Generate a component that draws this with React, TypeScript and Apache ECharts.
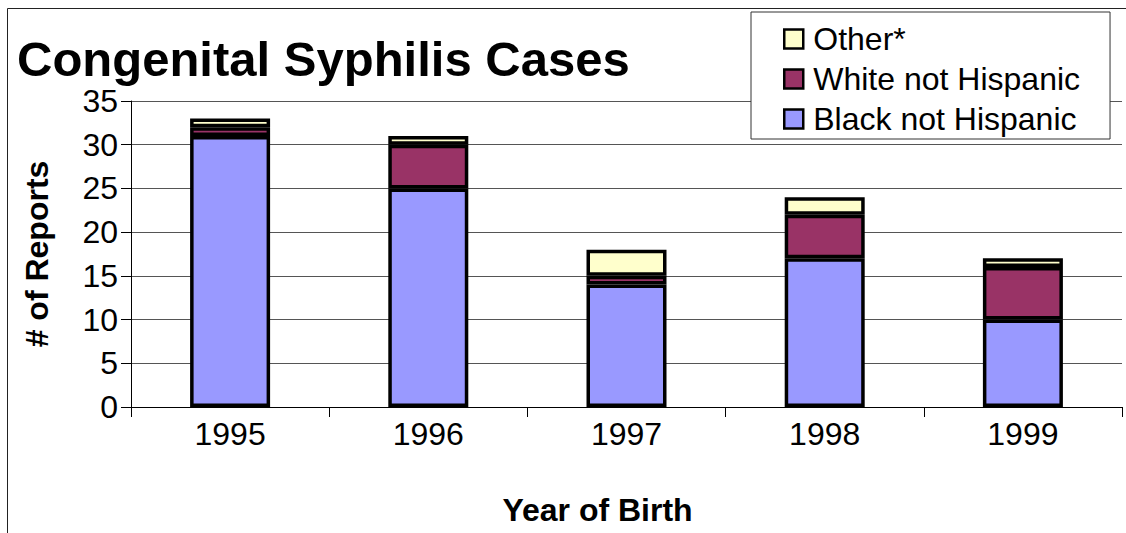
import React, { useEffect, useRef } from "react";
import * as echarts from "echarts";

const years = ["1995", "1996", "1997", "1998", "1999"];
const blackNotHispanic = [31, 25, 14, 17, 10];
const whiteNotHispanic = [1, 5, 1, 5, 6];
const other = [1, 1, 3, 2, 1];

const FONT = "'Liberation Sans', Arial, sans-serif";

export default function App() {
  const ref = useRef<HTMLDivElement>(null);
  useEffect(() => {
    document.body.style.margin = "0";
    const chart = echarts.init(ref.current!, null, { renderer: "svg" });
    const barStyle = (color: string) => ({ color, borderColor: "#000", borderWidth: 3.5 });
    chart.setOption({
      animation: false,
      backgroundColor: "#fff",
      textStyle: { fontFamily: FONT },
      title: {
        text: "Congenital Syphilis Cases",
        left: 17,
        top: 39,
        padding: 0,
        textStyle: { fontFamily: FONT, fontSize: 49, lineHeight: 40, fontWeight: "bold", color: "#000" },
      },
      graphic: [
        {
          type: "rect",
          shape: { x: 7.5, y: 8.5, width: 1200, height: 600 },
          style: { fill: "none", stroke: "#222", lineWidth: 1 },
          silent: true,
          z: -10,
        },
      ],
      legend: {
        orient: "vertical",
        left: 751,
        top: 12,
        padding: [11, 30, 4, 32],
        itemGap: 8,
        itemWidth: 19,
        itemHeight: 19,
        backgroundColor: "#fff",
        borderColor: "#333",
        borderWidth: 1,
        icon: "rect",
        itemStyle: { borderColor: "#000", borderWidth: 2.5 },
        textStyle: { fontFamily: FONT, fontSize: 32, lineHeight: 32, color: "#000", padding: [0, 0, 0, 5] },
        data: ["Other*", "White not Hispanic", "Black not Hispanic"],
        z: 10,
      },
      grid: { left: 131, right: 4, top: 101, bottom: 126, containLabel: false },
      xAxis: {
        type: "category",
        data: years,
        name: "Year of Birth",
        nameLocation: "middle",
        nameGap: 87,
        nameTextStyle: { fontFamily: FONT, fontSize: 32, fontWeight: "bold", color: "#000", padding: [0, 58, 0, 0] },
        axisLine: { lineStyle: { color: "#000", width: 1 } },
        axisTick: { show: true, length: 10, inside: false, lineStyle: { color: "#000" } },
        axisLabel: { fontFamily: FONT, fontSize: 32, color: "#000", margin: 11 },
      },
      yAxis: {
        type: "value",
        min: 0,
        max: 35,
        interval: 5,
        name: "# of Reports",
        nameLocation: "middle",
        nameGap: 78,
        nameTextStyle: { fontFamily: FONT, fontSize: 32, fontWeight: "bold", color: "#000" },
        axisLine: { show: true, lineStyle: { color: "#000", width: 1 } },
        axisTick: { show: true, length: 10, lineStyle: { color: "#000" } },
        axisLabel: { fontFamily: FONT, fontSize: 32, lineHeight: 26, color: "#000", margin: 13 },
        splitLine: { show: true, lineStyle: { color: "#555", width: 1 } },
      },
      series: [
        { name: "Black not Hispanic", type: "bar", stack: "total", data: blackNotHispanic, barWidth: 80, itemStyle: barStyle("#9999FF") },
        { name: "White not Hispanic", type: "bar", stack: "total", data: whiteNotHispanic, barWidth: 80, itemStyle: barStyle("#993366") },
        { name: "Other*", type: "bar", stack: "total", data: other, barWidth: 80, itemStyle: barStyle("#FFFFCC") },
      ],
    });
    return () => chart.dispose();
  }, []);
  return <div ref={ref} style={{ position: "absolute", left: 0, top: 0, width: 1126, height: 533 }} />;
}
